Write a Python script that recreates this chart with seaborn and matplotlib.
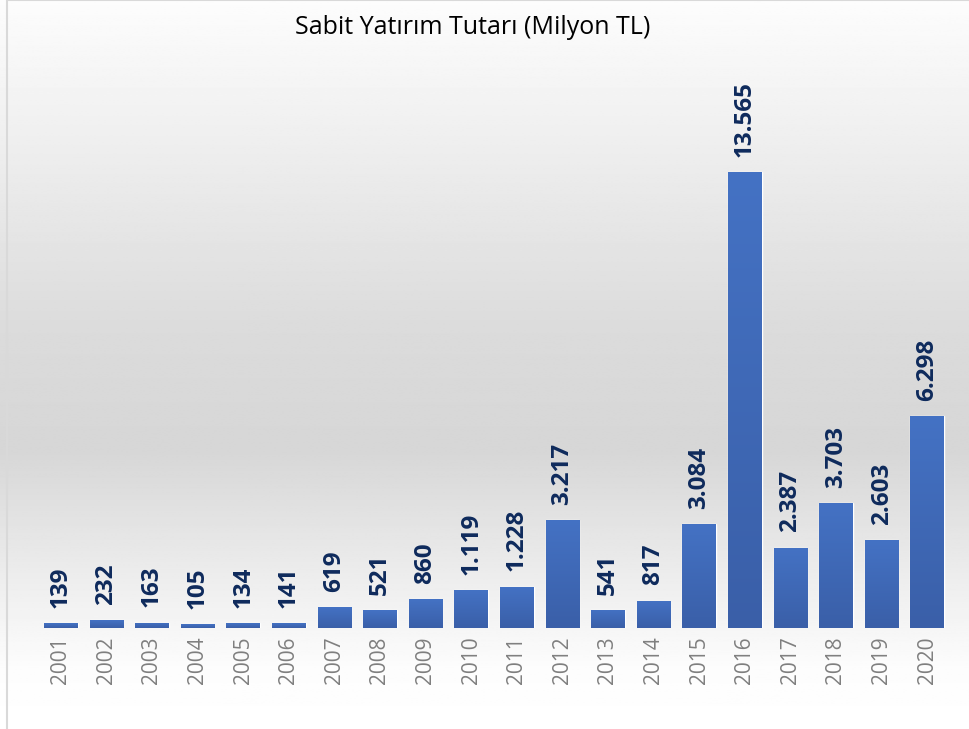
import numpy as np
import pandas as pd
import matplotlib
matplotlib.use("Agg")
import matplotlib.pyplot as plt
from matplotlib.colors import LinearSegmentedColormap
from matplotlib.patches import Rectangle
import seaborn as sns

years = [str(y) for y in range(2001, 2021)]
values = [139, 232, 163, 105, 134, 141, 619, 521, 860, 1119,
          1228, 3217, 541, 817, 3084, 13565, 2387, 3703, 2603, 6298]
title = "Sabit Yatırım Tutarı (Milyon TL)"

df = pd.DataFrame({"Yil": years, "Tutar": values})

sns.set_style("white")
plt.rcParams["font.family"] = ["Open Sans", "DejaVu Sans"]

fig = plt.figure(figsize=(9.7, 7.29), dpi=100)

# gray gradient background (white -> gray -> white)
bg = fig.add_axes([0, 0, 1, 1], zorder=0)
ys = np.array([0, 60, 150, 280, 400, 550, 650, 729]) / 729
shade = np.array([1.0, 0.99, 0.93, 0.84, 0.86, 0.92, 0.96, 0.99])
col = np.interp(np.linspace(0, 1, 400), ys, shade)
bg.imshow(np.repeat(col[:, None], 2, axis=1), cmap="gray", vmin=0, vmax=1,
          aspect="auto", extent=[0, 1, 0, 1])
bg.set_xlim(0, 1)
bg.set_ylim(1, 0)
bg.axis("off")

# chart frame
fig.patches.append(Rectangle((7.5 / 970, -0.01), 1.0, 1 - 0.5 / 729 + 0.01,
                             transform=fig.transFigure, fill=False,
                             edgecolor="#D9D9D9", lw=1.5, zorder=1))

ax = fig.add_axes([38 / 970, 1 - 628 / 729, 912 / 970, 538 / 729], zorder=2)
ax.patch.set_alpha(0)
sns.barplot(data=df, x="Yil", y="Tutar", color="#4472C4", width=0.74,
            saturation=1, ax=ax)

# vertical gradient on each bar
bar_cmap = LinearSegmentedColormap.from_list("bar", ["#3A5FA8", "#4472C4"])
grad = np.linspace(0, 1, 256)[:, None]
for p in ax.patches:
    x0, y0 = p.get_x(), p.get_y()
    w, h = p.get_width(), p.get_height()
    im = ax.imshow(grad, cmap=bar_cmap, aspect="auto", origin="lower",
                   extent=[x0, x0 + w, y0, y0 + h], zorder=p.get_zorder() + 0.1)
    im.set_clip_path(p)

labels = [f"{v:,}".replace(",", ".") for v in values]
ax.bar_label(ax.containers[0], labels=labels, rotation=90, padding=11,
             fontsize=17.5, fontweight="bold", color="#0E2A5C")

ax.set_xlim(-0.5, len(years) - 0.5)
ax.set_ylim(0, 16000)
ax.set_xlabel("")
ax.set_ylabel("")
ax.set_yticks([])
ax.tick_params(axis="x", length=0, pad=6, labelsize=15, labelcolor="#7F7F7F",
               labelrotation=90)
sns.despine(ax=ax, left=True, bottom=True)

fig.text(473 / 970, 1 - 28 / 729, title, ha="center", va="center",
         fontsize=18, color="#000000")

fig.savefig("out.png", dpi=100)
